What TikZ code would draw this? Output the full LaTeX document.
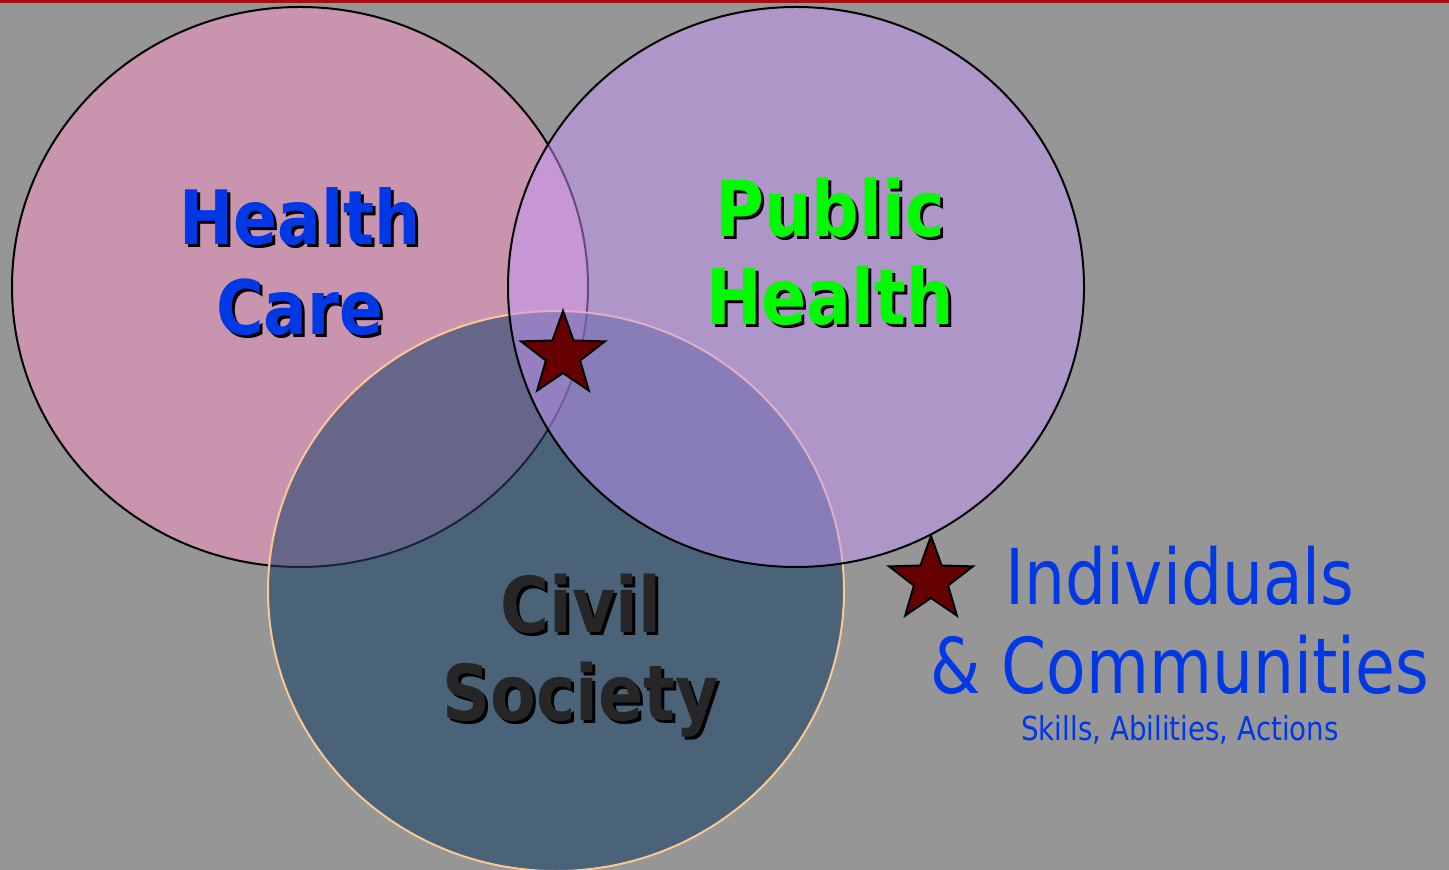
\documentclass[tikz,border=0pt]{standalone}
\usepackage{fontspec}
\usepackage{xcolor}
\usepackage{tikz}
\usetikzlibrary{shapes.geometric, positioning}
\newfontfamily\titlefont[FakeStretch=0.865]{DejaVu Sans}
\newfontfamily\labelfont[FakeStretch=0.84]{DejaVu Sans}
\definecolor{bggray}{RGB}{150,150,150}
\definecolor{topred}{RGB}{165,15,15}
\definecolor{carepink}{RGB}{201,148,174}
\definecolor{publilac}{RGB}{198,152,250}
\definecolor{civilblue}{RGB}{74,99,121}
\definecolor{civilpink}{RGB}{102,102,136}
\definecolor{civiledge}{RGB}{250,200,150}
\definecolor{careedge}{RGB}{25,35,60}
\definecolor{starred}{RGB}{102,0,0}
\definecolor{textblue}{RGB}{0,56,230}
\definecolor{textgreen}{RGB}{0,250,0}
\definecolor{textdark}{RGB}{38,38,38}
\def\carecircle{(300,287) ellipse [x radius=288, y radius=280]}
\def\publiccircle{(796,287) ellipse [x radius=288, y radius=280]}
\def\civilcircle{(556,591) ellipse [x radius=288, y radius=280]}
\tikzset{
  title/.style={font=\titlefont\bfseries\fontsize{37.5pt}{45pt}\selectfont, align=center, inner sep=0pt, anchor=base},
  bigtitle/.style={title, font=\titlefont\bfseries\fontsize{38.5pt}{44pt}\selectfont},
  starmark/.style={star, star points=5, star point ratio=2.45, draw=black, line width=1pt, fill=starred, minimum size=44pt, inner sep=0pt},
  keytext/.style={font=\labelfont\fontsize{38.5pt}{44.5pt}\selectfont, text=textblue, align=center, inner sep=0pt, anchor=base}
}

\begin{document}
\begin{tikzpicture}[x=0.5pt,y=-0.5pt]
\useasboundingbox (0,0) rectangle (1449,870);
% Background
\fill[bggray] (0,0) rectangle (1449,870);
\draw[topred, line width=1.5pt] (0,2) -- (1449,2);

% Circles
\fill[carepink] \carecircle;
\draw[line width=1pt] \carecircle;
\fill[civilblue] \civilcircle;
\begin{scope}
\clip \civilcircle;
\fill[civilpink] \carecircle;
\draw[careedge, line width=1pt] \carecircle;
\end{scope}
\draw[civiledge, line width=1pt] \civilcircle;
\fill[publilac, fill opacity=0.5] \publiccircle;
\draw[line width=1pt] \publiccircle;

% Titles (base anchor sits on the last line)
\node[title, text=black] (hcshadow) at (303,338) {Health\\Care};
\node[title, text=textblue] (hc) at (300,335) {Health\\Care};
\node[bigtitle, text=black] (phshadow) at (833,328) {Public\\Health};
\node[bigtitle, text=textgreen] (ph) at (830,325) {Public\\Health};
\node[bigtitle, text=black] (csshadow) at (584,723) {Civil\\Society};
\node[bigtitle, text=textdark] (cs) at (581,720) {Civil\\Society};

% Stars
\node[starmark] (midstar) at (563,355) {};
\node[starmark] (keystar) at (931,580) {};

% Key
\node[keytext] (ic) at (1180,693) {Individuals\\\& Communities};
\node[keytext, font=\labelfont\fontsize{16.5pt}{20pt}\selectfont] (skills) at (1180,740) {Skills, Abilities, Actions};
\end{tikzpicture}
\end{document}
